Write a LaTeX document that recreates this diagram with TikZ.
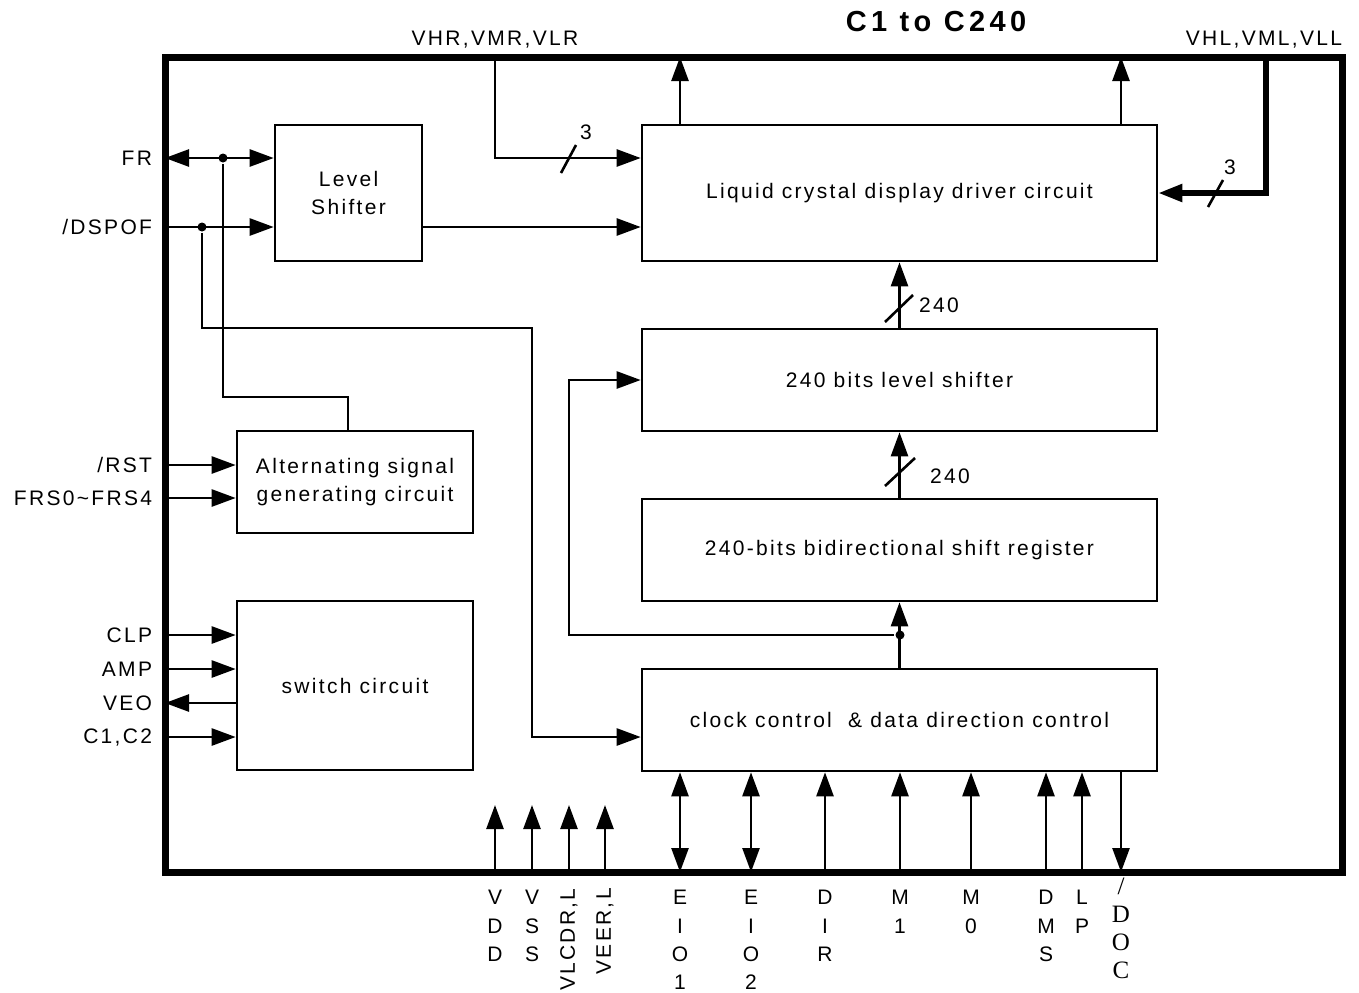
\documentclass[tikz,border=0pt]{standalone}
\usepackage{fontspec}
\setmainfont{Liberation Sans}[LetterSpace=11]
\newfontfamily\ttlfont{Liberation Sans}[LetterSpace=15]
\newfontfamily\docfont{Liberation Serif}
\usetikzlibrary{arrows.meta}

\begin{document}
\begin{tikzpicture}[x=0.5pt,y=-0.5pt,line width=1.3pt,
    >={Triangle[length=12pt,width=8.5pt]},
    font=\fontsize{10.5}{14.2}\selectfont,
    blk/.style={draw,inner sep=0pt,align=center},
    jdot/.style={circle,fill,inner sep=0pt,minimum size=4.5pt},
    pinlbl/.style={anchor=north,inner sep=0pt,align=center}]
             \useasboundingbox (0,0) rectangle (1359,992);

             \draw[line width=3.5pt] (165,57) rectangle (1342,872);
             \node[draw=none] (title) at (936,22) {\ttlfont\fontsize{14.5}{16}\selectfont\bfseries C1 to C240};
             \node[draw=none] (lVHR) at (495,40) {VHR,VMR,VLR};
             \node[draw=none,anchor=east] (lVHL) at (1350,40) {VHL,VML,VLL};

             \node[blk,minimum width=73.5pt,minimum height=68pt] (lvl) at (348.5,193) {Level\\Shifter};
             \node[blk,minimum width=257.5pt,minimum height=68pt] (lcd) at (899.5,193) {Liquid crystal display driver circuit};
             \node[blk,minimum width=257.5pt,minimum height=51pt] (bls) at (899.5,380) {240 bits level shifter};
             \node[blk,minimum width=257.5pt,minimum height=51pt] (sreg) at (899.5,550) {240-bits bidirectional shift register};
             \node[blk,minimum width=257.5pt,minimum height=51pt] (clk) at (899.5,720) {clock control \ \& data direction control};
             \node[blk,minimum width=118pt,minimum height=51pt] (alt) at (355,482) {Alternating signal\\generating circuit};
             \node[blk,minimum width=118pt,minimum height=84.5pt] (sw) at (355,685.5) {switch circuit};

             % left side pins
             \coordinate (pFR) at (165,158);
             \coordinate (pDSP) at (165,227);
             \coordinate (pRST) at (165,465);
             \coordinate (pFRS) at (165,498);
             \coordinate (pCLP) at (165,635);
             \coordinate (pAMP) at (165,669);
             \coordinate (pVEO) at (165,703);
             \coordinate (pC12) at (165,737);
             \node[anchor=east] (lFR) at ([xshift=-2.5pt]pFR) {FR};
             \node[anchor=east] (lDSP) at ([xshift=-2.5pt]pDSP) {/DSPOF};
             \node[anchor=east] (lRST) at ([xshift=-2.5pt]pRST) {/RST};
             \node[anchor=east] (lFRS) at ([xshift=-2.5pt]pFRS) {FRS0\textasciitilde FRS4};
             \node[anchor=east] (lCLP) at ([xshift=-2.5pt]pCLP) {CLP};
             \node[anchor=east] (lAMP) at ([xshift=-2.5pt]pAMP) {AMP};
             \node[anchor=east] (lVEO) at ([xshift=-2.5pt]pVEO) {VEO};
             \node[anchor=east] (lC12) at ([xshift=-2.5pt]pC12) {C1,C2};

             \draw[<->] (pFR) -- (lvl.west |- pFR);
             \draw[->] (pDSP) -- (lvl.west |- pDSP);
             \node[jdot] (jFR) at (223,158) {};
             \node[jdot] (jDSP) at (202,227) {};
             \coordinate (kFR) at (348,397);
             \coordinate (kDSP) at (532,328);
             \draw (jFR) |- (kFR) -- (kFR |- alt.north);
             \draw[->] (jDSP) |- (kDSP) |- (clk.west |- pC12);
             \draw[->] (lvl.east |- pDSP) -- (lcd.west |- pDSP);

             \draw[->] (pRST) -- (alt.west |- pRST);
             \draw[->] (pFRS) -- (alt.west |- pFRS);
             \draw[->] (pCLP) -- (sw.west |- pCLP);
             \draw[->] (pAMP) -- (sw.west |- pAMP);
             \draw[<-] (pVEO) -- (sw.west |- pVEO);
             \draw[->] (pC12) -- (sw.west |- pC12);

             % top side
             \coordinate (pVHR) at (495,57);
             \coordinate (pVHL) at (1266,57);
             \coordinate (pOR) at (680,57);
             \coordinate (pOL) at (1121,57);
             \draw[->] (pVHR) |- (lcd.west |- pFR);
             \draw (561,173) -- (576,145);
             \node[draw=none] (n3a) at (586,132) {3};
             \draw[->] (pOR |- lcd.north) -- (pOR);
             \draw[->] (pOL |- lcd.north) -- (pOL);
             \draw[->,line width=2.6pt] (pVHL) |- (lcd.east);
             \draw (1208,207) -- (1223,180);
             \node[draw=none] (n3b) at (1230,167) {3};

             % 240 bit buses
             \draw[->] (bls.north) -- (lcd.south);
             \draw (885,322) -- (913,295);
             \node[draw=none] (n240a) at (939,305) {240};
             \draw[->] (sreg.north) -- (bls.south);
             \draw (885,486) -- (915,458);
             \node[draw=none] (n240b) at (950,476) {240};
             \draw[->] (clk.north) -- (sreg.south);
             \node[jdot] (jCLK) at (900,635) {};
             \coordinate (kCLK) at (569,380);
             \draw[->] (jCLK) -| (kCLK) -- (bls.west);

             % bottom side
             \foreach \x/\n in {495/VDD,532/VSS,569/VLCD,605/VEER} {
               \coordinate (p\n) at (\x,872);
               \coordinate (t\n) at (\x,805);
               \draw[->] (p\n) -- (t\n);
             }
             \foreach \x/\n in {825/DIR,900/MA,971/MB,1046/DMS,1082/LP} {
               \coordinate (p\n) at (\x,872);
               \draw[->] (p\n) -- (p\n |- clk.south);
             }
             \foreach \x/\n in {680/EIA,751/EIB} {
               \coordinate (p\n) at (\x,872);
               \draw[<->] (p\n) -- (p\n |- clk.south);
             }
             \coordinate (pDOC) at (1121,872);
             \draw[->] (pDOC |- clk.south) -- (pDOC);

             \node[pinlbl] (lVDD) at (495,889) {V\\D\\D};
             \node[pinlbl] (lVSS) at (532,889) {V\\S\\S};
             \node[rotate=90,anchor=east,inner sep=0pt] (lVLCD) at (569,887) {VLCDR,L};
             \node[rotate=90,anchor=east,inner sep=0pt] (lVEER) at (605,887) {VEER,L};
             \node[pinlbl] (lEIA) at (680,889) {E\\I\\O\\1};
             \node[pinlbl] (lEIB) at (751,889) {E\\I\\O\\2};
             \node[pinlbl] (lDIR) at (825,889) {D\\I\\R};
             \node[pinlbl] (lMA) at (900,889) {M\\1};
             \node[pinlbl] (lMB) at (971,889) {M\\0};
             \node[pinlbl] (lDMS) at (1046,889) {D\\M\\S};
             \node[pinlbl] (lLP) at (1082,889) {L\\P};
             \node[pinlbl,font=\docfont\fontsize{12.5}{14}\selectfont] (lDOC) at (1121,877) {/\\D\\O\\C};
\end{tikzpicture}
\end{document}
